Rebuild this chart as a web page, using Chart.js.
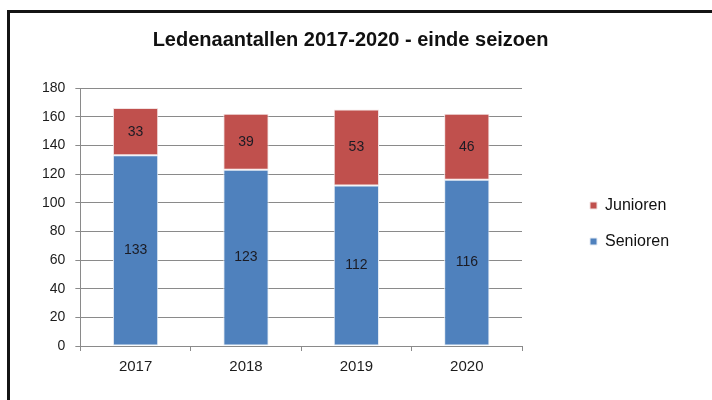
<!DOCTYPE html>
<html>
<head>
<meta charset="utf-8">
<script src="https://cdn.jsdelivr.net/npm/chart.js@4/dist/chart.umd.min.js"></script>
<style>
  html, body { margin: 0; padding: 0; background: #fff; }
  #wrap { position: relative; width: 712px; height: 400px; overflow: hidden; }
  #frame { position: absolute; left: 7px; top: 10px; width: 800px; height: 500px;
           border-left: 3px solid #141414; border-top: 3px solid #141414; }
  #chart { position: absolute; left: 0; top: 0; }
</style>
</head>
<body>
<div id="wrap">
  <div id="frame"></div>
  <canvas id="chart" width="712" height="400"></canvas>
</div>
<script>
const years = ["2017", "2018", "2019", "2020"];
const senioren = [133, 123, 112, 116];
const junioren = [33, 39, 53, 46];
const yTicks = [0, 20, 40, 60, 80, 100, 120, 140, 160, 180];

const fontFamily = "'Liberation Sans', Arial, sans-serif";

// draws the value in the middle of each bar segment
const segmentLabels = {
  id: "segmentLabels",
  afterDatasetsDraw(chart) {
    const ctx = chart.ctx;
    ctx.save();
    ctx.font = "14px " + fontFamily;
    ctx.fillStyle = "#1b1b24";
    ctx.textAlign = "center";
    ctx.textBaseline = "middle";
    chart.data.datasets.forEach((ds, i) => {
      chart.getDatasetMeta(i).data.forEach((bar, j) => {
        const mid = (bar.y + bar.base) / 2;
        ctx.fillText(ds.data[j], bar.x, mid);
      });
    });
    ctx.restore();
  }
};

// legend sits in a wide right column, moved a bit right/down like in excel
const legendPlace = {
  id: "legendPlace",
  beforeLayout(chart) {
    const lg = chart.legend;
    if (lg && !lg._wrapped) {
      const fit = lg.fit.bind(lg);
      lg.fit = function () { fit(); this.width = 147; };
      lg._wrapped = true;
    }
  },
  afterLayout(chart) {
    const lg = chart.legend;
    lg.left += 48; lg.right += 48;
    lg.top += 27; lg.bottom += 27;
  }
};

new Chart(document.getElementById("chart"), {
  type: "bar",
  data: {
    labels: years,
    datasets: [
      {
        label: "Senioren",
        data: senioren,
        backgroundColor: "#4f81bd",
        borderColor: "#e4ebf4",
        borderWidth: 1,
        borderSkipped: false,
        categoryPercentage: 1,
        barPercentage: 0.41
      },
      {
        label: "Junioren",
        data: junioren,
        backgroundColor: "#c0504d",
        borderColor: "#f2e2e2",
        borderWidth: 1,
        borderSkipped: false,
        categoryPercentage: 1,
        barPercentage: 0.41
      }
    ]
  },
  options: {
    responsive: false,
    animation: false,
    devicePixelRatio: 1,
    layout: { padding: { left: 32, right: 43, top: 10, bottom: 17 } },
    plugins: {
      title: {
        display: true,
        text: "Ledenaantallen 2017-2020 - einde seizoen",
        color: "#111",
        font: { family: fontFamily, size: 20, weight: "bold" },
        padding: { top: 18, bottom: 36 }
      },
      legend: {
        position: "right",
        reverse: true,
        labels: {
          boxWidth: 7,
          boxHeight: 7,
          padding: 20,
          color: "#111",
          font: { family: fontFamily, size: 16 }
        }
      },
      tooltip: { enabled: false }
    },
    scales: {
      x: {
        stacked: true,
        border: { color: "#8a8a8a", width: 1 },
        grid: { offset: true, drawOnChartArea: false, drawTicks: true, tickLength: 5, color: "#8a8a8a" },
        ticks: { color: "#1c1c1c", padding: 7, font: { family: fontFamily, size: 15 } }
      },
      y: {
        stacked: true,
        min: 0,
        max: 180,
        afterBuildTicks(axis) { axis.ticks = yTicks.map(v => ({ value: v })); },
        border: { color: "#8a8a8a", width: 1 },
        grid: { color: "#8a8a8a", tickLength: 5 },
        ticks: { color: "#1c1c1c", padding: 10, font: { family: fontFamily, size: 14 } }
      }
    }
  },
  plugins: [segmentLabels, legendPlace]
});
</script>
</body>
</html>
